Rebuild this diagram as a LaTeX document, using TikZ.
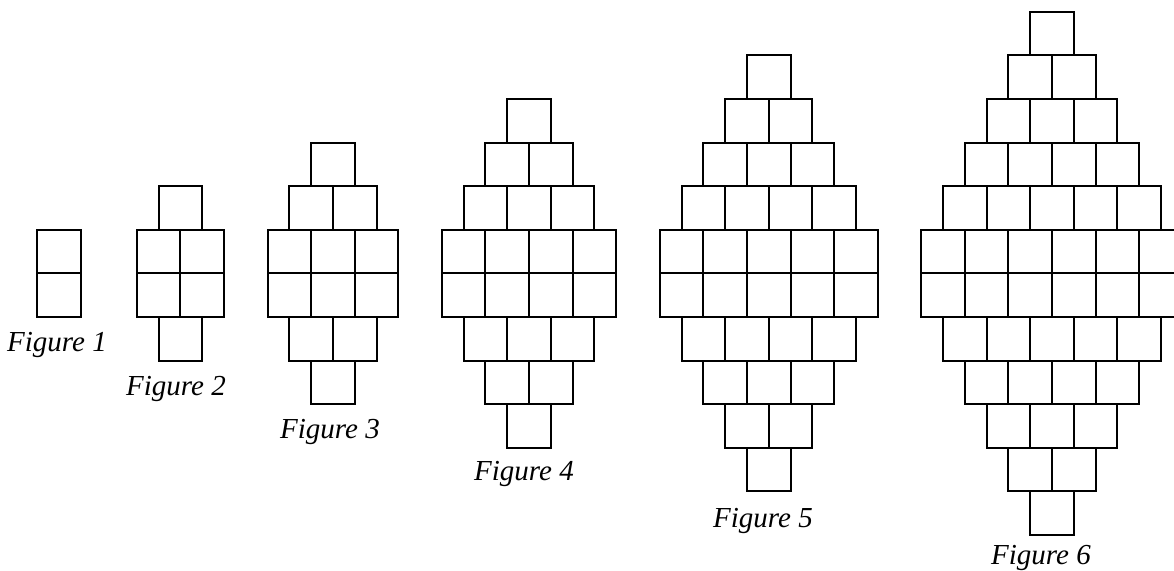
\documentclass[tikz,border=0pt]{standalone}
\usepackage{fontspec}
\setmainfont{Liberation Serif}[ItalicFont={Liberation Serif Italic}]
\usepackage{tikz}

\begin{document}
\begin{tikzpicture}[x=0.5pt,y=-0.5pt,
      sq/.style={draw=black, line width=1pt},
      lbl/.style={font=\fontsize{14.5}{16}\selectfont\itshape, inner sep=0pt}
  ]
    \useasboundingbox (0,0) rectangle (1174,571);
    \def\side{43.6}
    \def\midy{273.5}
    % rows 1..n above the middle line, mirrored below
    \foreach \n/\cx in {1/58.7,2/180.3,3/333,4/529,5/768.7,6/1051.9}{
      \foreach \k in {1,...,\n}{
        \foreach \j in {1,...,\k}{
          \pgfmathsetmacro\xl{\cx-\k*\side/2+(\j-1)*\side}
          \pgfmathsetmacro\yt{\midy-(\n-\k+1)*\side}
          \pgfmathsetmacro\yb{\midy+(\n-\k)*\side}
          \draw[sq] (\xl,\yt) rectangle ++(\side,\side);
          \draw[sq] (\xl,\yb) rectangle ++(\side,\side);
        }
      }
    }
    \node[lbl] (fig1) at (57,345)   {Figure 1};
    \node[lbl] (fig2) at (176,389)  {Figure 2};
    \node[lbl] (fig3) at (330,432)  {Figure 3};
    \node[lbl] (fig4) at (524,474)  {Figure 4};
    \node[lbl] (fig5) at (763,521)  {Figure 5};
    \node[lbl] (fig6) at (1041,558) {Figure 6};
  \end{tikzpicture}
\end{document}
